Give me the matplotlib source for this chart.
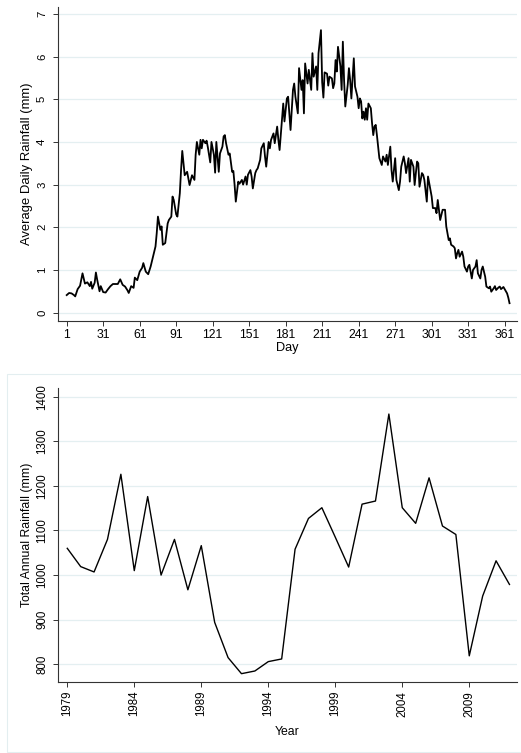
import matplotlib
matplotlib.use('Agg')
import matplotlib.pyplot as plt
import matplotlib.patches as mpatches

plt.rcParams['font.family'] = ['Liberation Sans', 'DejaVu Sans']

# daily average rainfall (mm)
DAYS = [1, 3, 5, 7, 8, 10, 12, 14, 16, 18, 20, 21, 22, 24, 25, 26, 28, 29, 31, 33,
        35, 37, 39, 41, 43, 45, 47, 49, 51, 52, 54, 56, 57, 59, 61, 63, 64, 66, 68, 70,
        72, 74, 75, 76, 78, 79, 80, 82, 84, 85, 87, 88, 89, 91, 92, 94, 95, 96, 98, 100,
        102, 104, 106, 107, 108, 110, 111, 112, 113, 115, 116, 117, 119, 120, 122, 123,
        124, 126, 127, 129, 130, 131, 132, 134, 135, 137, 138, 139, 140, 142, 143, 145,
        146, 148, 149, 150, 152, 153, 154, 156, 157, 158, 160, 161, 163, 164, 165, 167,
        168, 169, 171, 172, 174, 175, 176, 178, 179, 180, 182, 183, 184, 185, 187, 188,
        189, 191, 192, 194, 195, 196, 197, 199, 200, 202, 203, 204, 206, 207, 208, 210,
        211, 212, 213, 215, 216, 217, 219, 220, 221, 222, 223, 224, 226, 227, 228, 229,
        230, 232, 233, 234, 235, 236, 237, 238, 240, 241, 242, 243, 244, 245, 246, 247,
        248, 249, 251, 252, 253, 254, 255, 256, 257, 258, 260, 261, 263, 264, 265, 267,
        268, 269, 271, 272, 274, 275, 276, 278, 279, 280, 282, 283, 284, 286, 287, 289,
        290, 291, 293, 294, 295, 297, 298, 300, 301, 302, 304, 305, 306, 308, 309, 310,
        312, 313, 315, 316, 317, 319, 320, 321, 322, 323, 324, 326, 327, 328, 330, 331,
        332, 334, 335, 337, 338, 339, 341, 342, 343, 345, 346, 348, 349, 350, 352, 353,
        354, 356, 357, 358, 360, 362, 363, 364, 365]
DAILY_RAIN = [0.41, 0.46, 0.45, 0.41, 0.38, 0.55, 0.63, 0.92, 0.68, 0.71, 0.62, 0.72, 0.56, 0.70, 0.94, 0.78, 0.50, 0.62, 0.48, 0.47,
              0.55, 0.62, 0.67, 0.67, 0.67, 0.78, 0.65, 0.61, 0.52, 0.46, 0.62, 0.58, 0.82, 0.76, 0.96, 1.05, 1.16, 0.96, 0.90, 1.08,
              1.31, 1.55, 1.86, 2.25, 1.94, 2.02, 1.59, 1.63, 2.09, 2.17, 2.25, 2.72, 2.64, 2.30, 2.25, 2.80, 3.34, 3.79, 3.22, 3.30,
              2.99, 3.22, 3.11, 3.70, 4.00, 3.70, 4.05, 3.85, 4.05, 3.97, 4.03, 3.88, 3.52, 4.00, 3.70, 3.28,
              4.00, 3.30, 3.73, 3.89, 4.13, 4.16, 3.97, 3.70, 3.73, 3.30, 3.32, 3.00, 2.60, 3.07, 3.02, 3.11,
              3.00, 3.19, 3.00, 3.23, 3.34, 3.19, 2.91, 3.27, 3.34, 3.38, 3.58, 3.85, 3.97, 3.66, 3.42, 4.00,
              3.85, 4.05, 4.20, 3.97, 4.36, 4.05, 3.81, 4.52, 4.90, 4.48, 5.02, 5.06, 4.67, 4.28, 5.22, 5.37,
              5.06, 4.67, 5.73, 5.22, 5.45, 4.67, 5.84, 5.37, 5.69, 5.22, 6.08, 5.53, 5.77, 5.22, 6.08, 6.62,
              5.40, 5.04, 5.63, 5.60, 5.32, 5.53, 5.49, 5.26, 5.37, 5.92, 5.65, 6.23, 5.77, 5.22, 6.35, 5.45,
              4.83, 5.34, 5.73, 5.45, 5.02, 5.49, 5.96, 5.30, 5.06, 4.79, 5.02, 4.95, 4.55, 4.71, 4.52, 4.79,
              4.52, 4.90, 4.79, 4.44, 4.16, 4.36, 4.40, 4.16, 3.89, 3.62, 3.46, 3.66, 3.54, 3.70, 3.46, 3.89,
              3.34, 3.07, 3.62, 3.11, 2.87, 3.07, 3.42, 3.66, 3.50, 3.27, 3.62, 3.07, 3.58, 3.42, 2.99, 3.54,
              3.50, 2.95, 3.27, 3.23, 3.11, 2.60, 3.19, 2.87, 2.72, 2.45, 2.45, 2.33, 2.64, 2.17, 2.29, 2.41,
              2.41, 2.02, 1.70, 1.74, 1.59, 1.55, 1.51, 1.27, 1.39, 1.47, 1.31, 1.43, 1.31, 1.08, 0.96, 1.08,
              1.12, 0.80, 1.00, 1.08, 1.23, 0.92, 0.80, 1.00, 1.08, 0.84, 0.61, 0.57, 0.61, 0.49, 0.57, 0.62,
              0.53, 0.59, 0.61, 0.55, 0.60, 0.50, 0.45, 0.35, 0.22]

# total annual rainfall (mm)
YEARS = list(range(1979, 2013))
ANNUAL_RAIN = [1060, 1019, 1007, 1080, 1226, 1010, 1176, 1000, 1080, 967,
               1066, 894, 815, 779, 785, 806, 812, 1058, 1127, 1151,
               1085, 1018, 1159, 1166, 1361, 1151, 1116, 1218, 1110, 1091,
               819, 953, 1032, 979]

DAY_TICKS = list(range(1, 362, 30))
DAY_YTICKS = list(range(0, 8))
YEAR_TICKS = list(range(1979, 2010, 5))
ANNUAL_YTICKS = list(range(800, 1401, 100))

W, H = 521, 753
GRID = '#e4eff1'

fig = plt.figure(figsize=(W / 100, H / 100), dpi=100)
fig.patch.set_facecolor('white')


def px_axes(x0, y0, x1, y1):
    return fig.add_axes([x0 / W, 1 - y1 / H, (x1 - x0) / W, (y1 - y0) / H])


def style(ax, fs):
    for s in ['top', 'right']:
        ax.spines[s].set_visible(False)
    for s in ['left', 'bottom']:
        ax.spines[s].set_color('#333333')
        ax.spines[s].set_linewidth(0.8)
    ax.tick_params(direction='out', length=3.6, width=0.7, color='#333333',
                   labelsize=fs, labelcolor='black')
    ax.yaxis.grid(True, color=GRID, linewidth=0.9)
    ax.set_axisbelow(True)


# frame around lower graph
fig.patches.append(mpatches.Rectangle((7.3 / W, 1 - 752 / H), 1.0, (752 - 374.3) / H,
                                      transform=fig.transFigure, fill=False,
                                      edgecolor='#e3eef0', linewidth=0.8))

# ---- top: daily
ax1 = px_axes(58.3, 6.7, 516.7, 320.7)
style(ax1, 8.8)
ax1.plot(DAYS, DAILY_RAIN, color='black', linewidth=1.3)
ax1.set_xlim(-5.9, 370.9)
ax1.set_ylim(-0.19, 7.17)
ax1.set_xticks(DAY_TICKS)
ax1.set_yticks(DAY_YTICKS)
ax1.tick_params(axis='x', pad=2.2)
ax1.tick_params(axis='y', pad=4.5, labelsize=8.2)
for lab in ax1.get_yticklabels():
    lab.set_rotation(90)
    lab.set_va('center')
ax1.set_xlabel('Day', fontsize=9.2)
ax1.xaxis.set_label_coords(0.5, -0.087)
ax1.xaxis.label.set_va('center')
ax1.set_ylabel('Average Daily Rainfall (mm)', fontsize=9.4)
ax1.yaxis.set_label_coords(-0.068, 0.5)
ax1.yaxis.label.set_va('center')

# ---- bottom: annual
ax2 = px_axes(58.3, 388.3, 516.7, 681.7)
style(ax2, 8.3)
ax2.plot(YEARS, ANNUAL_RAIN, color='black', linewidth=1.0)
ax2.set_xlim(1978.33, 2012.54)
ax2.set_ylim(761, 1418.7)
ax2.set_xticks(YEAR_TICKS)
ax2.set_yticks(ANNUAL_YTICKS)
ax2.tick_params(axis='x', pad=3, labelrotation=90)
ax2.tick_params(axis='y', pad=3.5)
for lab in ax2.get_yticklabels():
    lab.set_rotation(90)
    lab.set_va('center')
ax2.set_xlabel('Year', fontsize=8.8)
ax2.xaxis.set_label_coords(0.5, -0.1725)
ax2.xaxis.label.set_va('center')
ax2.set_ylabel('Total Annual Rainfall (mm)', fontsize=8.8)
ax2.yaxis.set_label_coords(-0.068, 0.5)
ax2.yaxis.label.set_va('center')

fig.savefig('out.png', dpi=100, facecolor='white')
